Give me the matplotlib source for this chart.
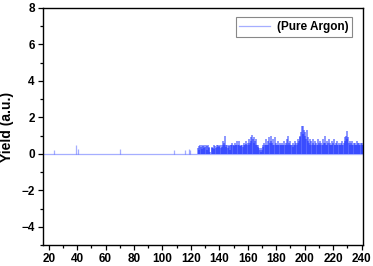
import numpy as np
import matplotlib as mpl
import matplotlib.pyplot as plt

mpl.use('Agg')
plt.rcParams['font.family'] = ['Liberation Sans', 'DejaVu Sans']
plt.rcParams['font.weight'] = 'bold'

# isolated sticks below mass 125
low_x = [24, 39, 40.5, 70, 108, 116, 118.5, 119.5]
low_y = [0.2, 0.5, 0.25, 0.25, 0.2, 0.2, 0.25, 0.2]

# dense region, mass 125 .. 241 in steps of 0.5
dense_start = 125
dense_step = 0.5
dense_y = [
    0.3, 0.45, 0.2, 0.5, 0.35, 0.5, 0.25, 0.45, 0.5, 0.3, 0.4, 0.5, 0.2, 0.45, 0.5, 0.35, 0.3, 0.1, 0.0, 0.3,
    0.4, 0.3, 0.5, 0.25, 0.45, 0.3, 0.5, 0.35, 0.5, 0.4, 0.45, 0.5, 0.3, 0.5, 0.4, 0.7, 0.5, 0.6, 1.0, 0.5,
    0.4, 0.5, 0.3, 0.5, 0.45, 0.2, 0.5, 0.5, 0.6, 0.5, 0.45, 0.5, 0.6, 0.5, 0.5, 0.7, 0.5, 0.73, 0.5, 0.45,
    0.5, 0.45, 0.5, 0.4, 0.5, 0.6, 0.5, 0.55, 0.7, 0.5, 0.6, 0.5, 0.8, 0.6, 0.9, 0.7, 1.05, 0.8, 0.9, 0.6,
    0.7, 0.5, 0.8, 0.5, 0.5, 0.4, 0.3, 0.2, 0.1, 0.3, 0.2, 0.35, 0.5, 0.6, 0.5, 0.8, 0.5, 0.5, 0.7, 0.5,
    0.9, 0.6, 0.7, 1.0, 0.6, 0.5, 0.8, 0.5, 0.9, 0.5, 0.6, 0.5, 0.5, 0.7, 0.5, 0.6, 0.5, 0.5, 0.6, 0.5,
    0.5, 0.7, 0.5, 0.6, 0.5, 0.8, 0.5, 1.0, 0.6, 0.5, 0.7, 0.5, 0.5, 0.6, 0.4, 0.5, 0.7, 0.5, 0.6, 0.5,
    0.6, 0.8, 0.7, 1.0, 0.9, 1.2, 1.53, 1.1, 1.5, 1.3, 1.0, 1.2, 0.8, 1.3, 0.9, 0.7, 0.6, 0.8, 0.5, 0.7,
    0.5, 0.6, 0.8, 0.5, 0.7, 0.5, 0.6, 0.5, 0.8, 0.5, 0.6, 0.7, 0.5, 0.6, 0.5, 0.8, 0.5, 0.6, 1.0, 0.6,
    0.5, 0.7, 0.5, 0.6, 0.8, 0.5, 0.6, 0.5, 0.7, 0.5, 0.6, 0.8, 0.5, 0.5, 0.6, 0.5, 0.7, 0.5, 0.6, 0.5,
    0.5, 0.6, 0.5, 0.7, 0.5, 0.6, 0.9, 0.7, 1.0, 1.26, 0.8, 0.9, 0.6, 0.7, 0.5, 0.6, 0.5, 0.7, 0.5, 0.6,
    0.5, 0.6, 0.5, 0.7, 0.5, 0.6, 0.5, 0.6, 0.5, 0.6, 0.5, 0.6, 0.5,
]
dense_x = dense_start + dense_step * np.arange(len(dense_y))

xmin, xmax = 16, 241
col = '#1f35ff'
a = 0.4

fig = plt.figure(figsize=(3.73, 2.66), dpi=100)
ax = fig.add_axes([0.1153, 0.079, 0.858, 0.891])

ax.plot([xmin, xmax], [0, 0], color=col, alpha=a, lw=0.9, label='(Pure Argon)')
ax.vlines(low_x, 0, low_y, color=col, alpha=a, lw=0.9)
ax.vlines(dense_x, 0, dense_y, color=col, alpha=0.6, lw=1.2)

ax.set_xlim(xmin, xmax)
ax.set_ylim(-5, 8)
ax.set_xticks(np.arange(20, 241, 20))
ax.set_xticks(np.arange(30, 241, 20), minor=True)
ax.set_yticks([-4, -2, 0, 2, 4, 6, 8])
ax.set_yticks([-5, -3, -1, 1, 3, 5, 7], minor=True)
ax.tick_params(which='both', direction='out', labelsize=8.5, width=0.9, pad=2.5)
ax.tick_params(which='major', length=3.5)
ax.tick_params(which='minor', length=2)
for s in ax.spines.values():
    s.set_linewidth(1.0)
ax.set_ylabel('Yield (a.u.)', fontsize=10, fontweight='bold', labelpad=5)

leg = ax.legend(loc='upper right', bbox_to_anchor=(0.985, 0.985), fontsize=8.5,
                fancybox=False, edgecolor='#888888', framealpha=1,
                handlelength=2.6, borderpad=0.3, handletextpad=0.6)
leg.get_frame().set_linewidth(0.8)
for h in leg.get_lines():
    h.set_alpha(0.4)

fig.savefig('out.png', dpi=100)
